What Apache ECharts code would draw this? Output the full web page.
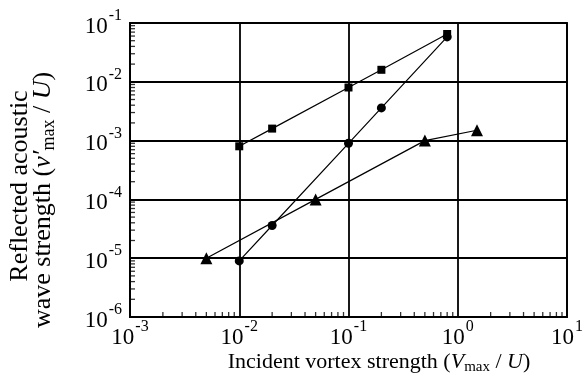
<!DOCTYPE html>
<html>
<head>
<meta charset="utf-8">
<script src="https://cdn.jsdelivr.net/npm/echarts@6/dist/echarts.min.js"></script>
<style>html,body{margin:0;padding:0;background:#fff}#c{width:586px;height:389px}</style>
</head>
<body>
<div id="c"></div>
<script>
// Data
var squareX = [0.01, 0.02, 0.1, 0.2, 0.8];
var squareY = [8e-4, 1.6e-3, 8e-3, 1.6e-2, 6.5e-2];
var circleX = [0.01, 0.02, 0.1, 0.2, 0.8];
var circleY = [9e-6, 3.6e-5, 9e-4, 3.6e-3, 5.8e-2];
var triangleX = [0.005, 0.05, 0.5, 1.5];
var triangleY = [1e-5, 1e-4, 1e-3, 1.5e-3];
var xMin = 1e-3, xMax = 10;
var yMin = 1e-6, yMax = 1e-1;
var xTitle = 'Incident vortex strength (';
var yTitle1 = 'Reflected acoustic';
var yTitle2 = 'wave strength (';

function pairs(xs, ys) { return xs.map(function (x, i) { return [x, ys[i]]; }); }
function minorValues(lo, hi) {
  var out = [];
  for (var e = Math.round(Math.log10(lo)); e < Math.round(Math.log10(hi)); e++) {
    for (var m = 2; m <= 9; m++) out.push(m * Math.pow(10, e));
  }
  return out;
}
var FONT = 'Liberation Serif';
var supRich = {
  b: { fontSize: 23, fontFamily: FONT, color: '#000', lineHeight: 30, verticalAlign: 'bottom' },
  s: { fontSize: 16, fontFamily: FONT, color: '#000', lineHeight: 30, verticalAlign: 'top', padding: [0, 0, 0, 1] }
};
function expLabel(v) {
  var e = Math.round(Math.log10(v));
  return '{b|10}{s|' + (e < 0 ? '-' : '') + Math.abs(e) + '}';
}
function titleRich(size) {
  return {
    n: { fontSize: size, fontFamily: FONT, color: '#000' },
    i: { fontSize: size, fontFamily: FONT, fontStyle: 'italic', color: '#000' },
    sub: { fontSize: Math.round(size * 0.68), fontFamily: FONT, color: '#000', padding: [Math.round(size * 0.45), 0, 0, 0] }
  };
}

var chart = echarts.init(document.getElementById('c'), null, { renderer: 'canvas' });
var lineStyle = { color: '#000', width: 1.2 };
var gridLine = { color: '#000', width: 1.8 };
chart.setOption({
  animation: false,
  grid: { left: 130, right: 8, top: 23, bottom: 72, show: true, borderColor: '#000', borderWidth: 1.8, backgroundColor: 'transparent' },
  xAxis: {
    type: 'log', logBase: 10, min: xMin, max: xMax, interval: 1,
    axisLine: { show: true, lineStyle: gridLine },
    axisTick: { show: false },
    splitLine: { show: true, lineStyle: gridLine },
    axisLabel: { margin: 2, formatter: expLabel, rich: supRich, showMinLabel: true, showMaxLabel: true }
  },
  yAxis: {
    type: 'log', logBase: 10, min: yMin, max: yMax, interval: 1,
    axisLine: { show: true, lineStyle: gridLine },
    axisTick: { show: false },
    splitLine: { show: true, lineStyle: gridLine },
    axisLabel: { margin: 8, formatter: expLabel, rich: supRich, showMinLabel: true, showMaxLabel: true }
  },
  series: [
    {
      type: 'scatter', silent: true, clip: false, z: 5,
      data: minorValues(xMin, xMax).map(function (v) { return [v, yMin]; }),
      symbol: 'rect', symbolSize: [1.3, 5], symbolOffset: [0, -2.5],
      itemStyle: { color: '#000' }
    },
    {
      type: 'scatter', silent: true, clip: false, z: 5,
      data: minorValues(yMin, yMax).map(function (v) { return [xMin, v]; }),
      symbol: 'rect', symbolSize: [5, 1.3], symbolOffset: [2.5, 0],
      itemStyle: { color: '#000' }
    },
    { type: 'line', data: pairs(squareX, squareY), symbol: 'rect', symbolSize: 8, lineStyle: lineStyle, itemStyle: { color: '#000' }, z: 10 },
    { type: 'line', data: pairs(circleX, circleY), symbol: 'circle', symbolSize: 9, lineStyle: lineStyle, itemStyle: { color: '#000' }, z: 10 },
    { type: 'line', data: pairs(triangleX, triangleY), symbol: 'triangle', symbolSize: 12, lineStyle: lineStyle, itemStyle: { color: '#000' }, z: 10 }
  ],
  graphic: [
    { type: 'text', x: 379, y: 362, style: { text: '{n|' + xTitle + '}{i|V}{sub|max}{n| / }{i|U}{n|)}', rich: titleRich(22), align: 'center', verticalAlign: 'middle' } },
    { type: 'text', x: 20, y: 186, rotation: Math.PI / 2, style: { text: '{n|' + yTitle1 + '}', rich: titleRich(26), align: 'center', verticalAlign: 'middle' } },
    { type: 'text', x: 43, y: 200, rotation: Math.PI / 2, style: { text: '{n|' + yTitle2 + '}{i|v′}{sub|max}{n| / }{i|U}{n|)}', rich: titleRich(26), align: 'center', verticalAlign: 'middle' } }
  ]
});
</script>
</body>
</html>
